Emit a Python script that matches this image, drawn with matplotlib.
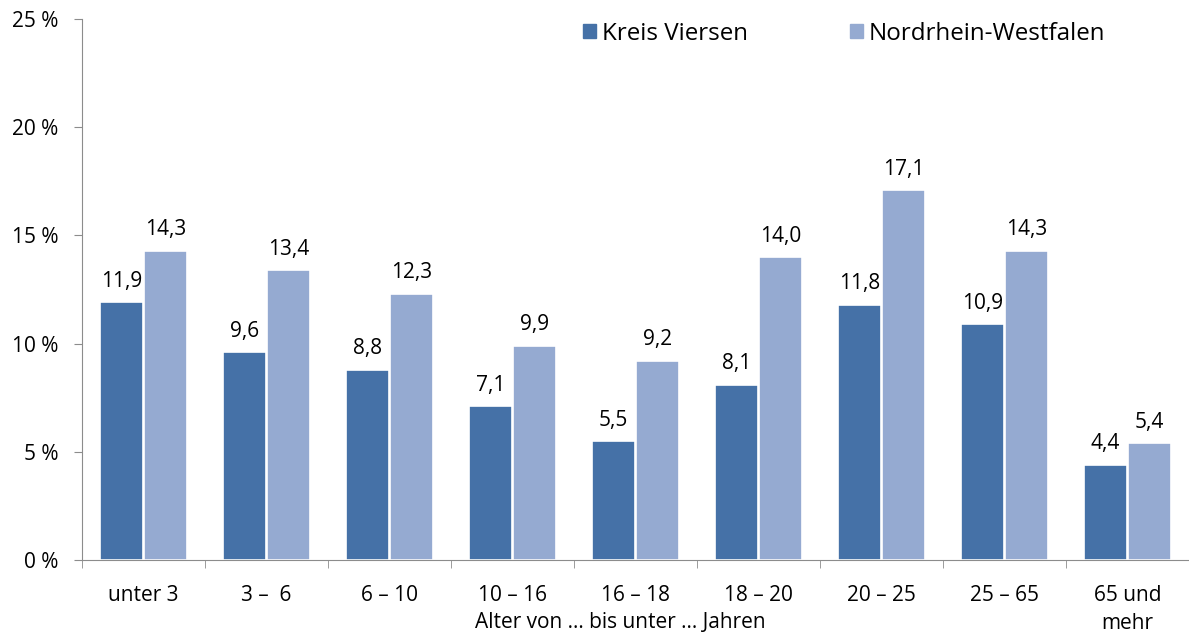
import numpy as np
import matplotlib.pyplot as plt
from matplotlib.patches import Patch

plt.rcParams["font.family"] = ["Open Sans", "DejaVu Sans"]

categories = ["unter 3", "3 –  6", "6 – 10", "10 – 16", "16 – 18",
              "18 – 20", "20 – 25", "25 – 65", "65 und\nmehr"]
kreis_viersen = [11.9, 9.6, 8.8, 7.1, 5.5, 8.1, 11.8, 10.9, 4.4]
nrw = [14.3, 13.4, 12.3, 9.9, 9.2, 14.0, 17.1, 14.3, 5.4]
y_ticks = [0, 5, 10, 15, 20, 25]

dark = "#4571a7"
light = "#95aad1"
axis_grey = "#8c8c8c"
fs = 15

fig = plt.figure(figsize=(11.89, 6.37), dpi=100)
ax = fig.add_axes([82 / 1189, 77 / 637, 1 - 82 / 1189, (560 - 19) / 637])

x = np.arange(len(categories))
w = 0.345
gap = 0.008
b1 = ax.bar(x - w / 2 - gap, kreis_viersen, width=w, color=dark,
            edgecolor="white", linewidth=1.2, label="Kreis Viersen")
b2 = ax.bar(x + w / 2 + gap, nrw, width=w, color=light,
            edgecolor="white", linewidth=1.2, label="Nordrhein-Westfalen")

for bars in (b1, b2):
    for rect in bars:
        h = rect.get_height()
        ax.annotate(f"{h:.1f}".replace(".", ","),
                    (rect.get_x() + rect.get_width() / 2, h),
                    xytext=(0, 7.5), textcoords="offset points",
                    ha="center", va="bottom", fontsize=fs)

ax.set_xlim(-0.5, len(categories) - 0.5)
ax.set_ylim(0, 25)
ax.set_yticks(y_ticks, labels=[f"{t} %" for t in y_ticks], fontsize=fs)
ax.set_xticks(x, labels=categories, fontsize=fs, linespacing=1.45)
ax.set_xticks(np.arange(len(categories) + 1) - 0.5, minor=True)
ax.tick_params(axis="x", which="major", length=0, pad=18)
ax.tick_params(axis="x", which="minor", length=6, color=axis_grey, direction="out")
ax.tick_params(axis="y", length=6, color=axis_grey, direction="out", pad=11)
fig.text(620 / 1189, 1 - 623 / 637, "Alter von ... bis unter ... Jahren",
         fontsize=fs, ha="center", va="center")

for side in ("top", "right"):
    ax.spines[side].set_visible(False)
for side in ("left", "bottom"):
    ax.spines[side].set_color(axis_grey)

handles = [Patch(color=dark), Patch(color=light)]
ax.legend(handles, ["Kreis Viersen", "Nordrhein-Westfalen"], loc="upper left",
          bbox_to_anchor=((583 - 82) / 1107, 0.995), ncol=2, frameon=False,
          fontsize=17.4, borderpad=0, borderaxespad=0,
          handlelength=0.52, handleheight=0.52, handletextpad=0.25,
          columnspacing=4.25)

fig.savefig("out.png", dpi=100)
